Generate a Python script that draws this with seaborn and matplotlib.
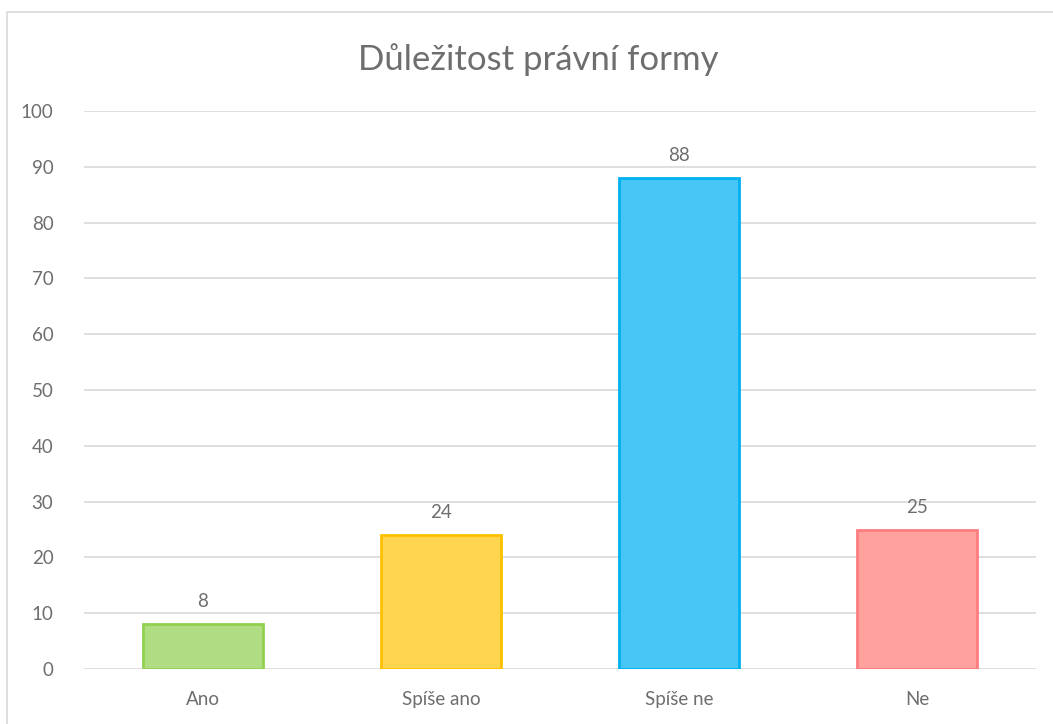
import pandas as pd
import matplotlib
matplotlib.use('Agg')
from matplotlib import pyplot as plt
from matplotlib.patches import Rectangle
import seaborn as sns

categories = ['Ano', 'Spíše ano', 'Spíše ne', 'Ne']
values = [8, 24, 88, 25]
fill_colors = ['#B1DD82', '#FFD54F', '#47C5F4', '#FFA19D']
edge_colors = ['#92D050', '#FFC000', '#00B0F0', '#FF7C80']
title = 'Důležitost právní formy'

if __name__ == '__main__':
    sns.set_style('white')
    plt.rcParams['font.family'] = ['Lato', 'DejaVu Sans']
    text_color = '#6E6E6E'

    df = pd.DataFrame({'cat': categories, 'val': values})

    fig = plt.figure(figsize=(10.53, 7.24), dpi=100)
    ax = fig.add_axes([84 / 1053, 55 / 724, (1036 - 84) / 1053, (669 - 111) / 724])
    sns.barplot(data=df, x='cat', y='val', hue='cat', palette=fill_colors,
                order=categories, hue_order=categories, width=0.504,
                saturation=1, legend=False, ax=ax, zorder=3)
    for patch, ec in zip(ax.patches, edge_colors):
        patch.set_edgecolor(ec)
        patch.set_linewidth(2)

    ax.set_ylim(0, 100)
    ax.set_yticks(range(0, 101, 10))
    ax.yaxis.grid(True, color='#D9D9D9', linewidth=1.2, zorder=0)
    ax.set_axisbelow(True)
    for s in ax.spines.values():
        s.set_visible(False)
    ax.tick_params(axis='y', length=0, pad=22, labelsize=13.5, labelcolor=text_color)
    ax.tick_params(axis='x', length=0, pad=16, labelsize=13.5, labelcolor=text_color)
    ax.set_xlabel('')
    ax.set_ylabel('')

    for cont in ax.containers:
        ax.bar_label(cont, padding=10, fontsize=13.5, color=text_color)

    fig.text(538 / 1053, 1 - 60 / 724, title, ha='center', va='center',
             fontsize=25, color=text_color)

    # chart area border
    fig.patches.append(Rectangle((7 / 1053, -0.1), 1.2, 1 - 12 / 724 + 0.1,
                                 transform=fig.transFigure, fill=False,
                                 edgecolor='#D9D9D9', linewidth=1.2))

    fig.savefig('out.png', dpi=100)
